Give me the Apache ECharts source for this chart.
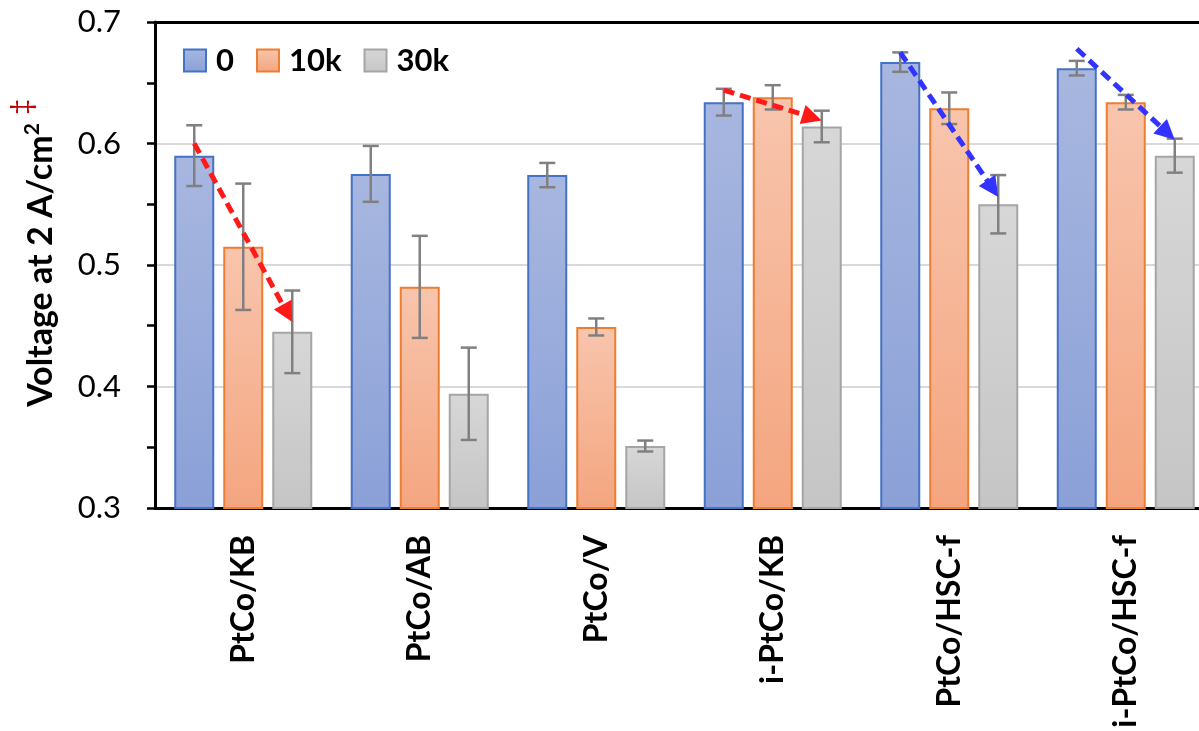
<!DOCTYPE html>
<html>
<head>
<meta charset="utf-8">
<script src="https://cdn.jsdelivr.net/npm/echarts@6/dist/echarts.min.js"></script>
<style>html,body{margin:0;padding:0;background:#fff;}#c{width:1199px;height:731px;}</style>
</head>
<body>
<div id="c"></div>
<script>
// ---- data ----
const categories = ['PtCo/KB', 'PtCo/AB', 'PtCo/V', 'i-PtCo/KB', 'PtCo/HSC-f', 'i-PtCo/HSC-f'];
const seriesNames = ['0', '10k', '30k'];
const v0   = [0.590, 0.575, 0.574, 0.634, 0.667, 0.662];
const v10k = [0.515, 0.482, 0.449, 0.638, 0.629, 0.634];
const v30k = [0.445, 0.394, 0.351, 0.614, 0.550, 0.590];
const err0   = [0.025, 0.023, 0.010, 0.011, 0.008, 0.006];
const err10k = [0.052, 0.042, 0.007, 0.010, 0.013, 0.006];
const err30k = [0.034, 0.038, 0.0045, 0.013, 0.024, 0.014];
const yTicks = [0.3, 0.4, 0.5, 0.6, 0.7];
// trend arrows: category index, start value (over 0 bar), end value (over 30k bar)
const arrowCat  = [0, 3, 4, 5];
const arrowFrom = [0.600, 0.644, 0.675, 0.678];
const arrowTo   = [0.453, 0.619, 0.556, 0.603];

// ---- styles ----
const arrowColors = ['#ff1a1a', '#ff1a1a', '#3333ff', '#3333ff'];
const BAR_W = 40, BAR_STEP = 49;
const FONT = 'Lato, "Open Sans", sans-serif';
const fills = [
  ['#a8b7e0', '#8aa0d7', '#4472c4'],
  ['#f8c5ad', '#f4a57f', '#ed7d31'],
  ['#d7d7d7', '#c5c5c5', '#a5a5a5']
];
const grad = (a, b) => new echarts.graphic.LinearGradient(0, 0, 0, 1, [{offset: 0, color: a}, {offset: 1, color: b}]);

const vals = [v0, v10k, v30k];
const errs = [err0, err10k, err30k];

const barSeries = vals.map((arr, i) => ({
  name: seriesNames[i],
  type: 'bar',
  data: arr,
  barWidth: BAR_W,
  barGap: ((BAR_STEP - BAR_W) / BAR_W * 100) + '%',
  itemStyle: { color: grad(fills[i][0], fills[i][1]), borderColor: fills[i][2], borderWidth: 2 },
  z: 2
}));

const errSeries = errs.map((arr, i) => ({
  type: 'custom',
  name: 'err' + i,
  data: arr.map((e, k) => [k, vals[i][k], e]),
  encode: { x: 0, y: 1 },
  z: 5,
  silent: true,
  renderItem: (params, api) => {
    const c = api.value(0), v = api.value(1), e = api.value(2);
    const x = api.coord([c, v])[0] + (i - 1) * BAR_STEP;
    const yt = api.coord([c, v + e])[1];
    const yb = api.coord([c, v - e])[1];
    const st = { stroke: '#808080', lineWidth: 2.5 };
    const cap = 8;
    return {
      type: 'group',
      children: [
        { type: 'line', shape: { x1: x, y1: yt, x2: x, y2: yb }, style: st },
        { type: 'line', shape: { x1: x - cap, y1: yt, x2: x + cap, y2: yt }, style: st },
        { type: 'line', shape: { x1: x - cap, y1: yb, x2: x + cap, y2: yb }, style: st }
      ]
    };
  }
}));

const arrowSeries = {
  type: 'custom',
  name: 'arrows',
  data: arrowCat.map((c, k) => [c, arrowFrom[k], arrowTo[k]]),
  encode: { x: 0, y: 1 },
  z: 10,
  silent: true,
  renderItem: (params, api) => {
    const c = api.value(0);
    const p1 = api.coord([c, api.value(1)]);
    const p2 = api.coord([c, api.value(2)]);
    const x1 = p1[0] - BAR_STEP, y1 = p1[1];
    const x2 = p2[0] + BAR_STEP, y2 = p2[1];
    const dx = x2 - x1, dy = y2 - y1, L = Math.sqrt(dx * dx + dy * dy);
    const ux = dx / L, uy = dy / L;
    const H = 20, W = 10;
    const bx = x2 - ux * H, by = y2 - uy * H;
    const col = arrowColors[params.dataIndex];
    return {
      type: 'group',
      children: [
        { type: 'line', shape: { x1: x1, y1: y1, x2: bx + ux * 2, y2: by + uy * 2 },
          style: { stroke: col, lineWidth: 5, lineDash: [11, 6] } },
        { type: 'polygon', shape: { points: [[x2, y2], [bx - uy * W, by + ux * W], [bx + uy * W, by - ux * W]] },
          style: { fill: col } }
      ]
    };
  }
};

const chart = echarts.init(document.getElementById('c'), null, { renderer: 'canvas' });
chart.setOption({
  animation: false,
  backgroundColor: '#fff',
  textStyle: { fontFamily: FONT },
  grid: { left: 155, top: 22, width: 1059, height: 486, containLabel: false, outerBoundsMode: 'none' },
  legend: {
    data: seriesNames,
    left: 178, top: 40,
    icon: 'rect',
    itemWidth: 22, itemHeight: 22,
    itemGap: 22,
    textStyle: { fontFamily: FONT, fontSize: 31, fontWeight: 'bold', color: '#000', padding: [0, 0, 0, 5] }
  },
  graphic: [{
    type: 'text',
    x: 22, y: 107,
    rotation: Math.PI / 2,
    style: { text: '‡', fontFamily: FONT, fontSize: 28, fill: '#c00000', align: 'center', verticalAlign: 'middle' }
  }],
  xAxis: [{
    type: 'category',
    data: categories,
    axisLine: { lineStyle: { color: '#000', width: 3 } },
    axisTick: { show: false },
    axisLabel: { rotate: 90, margin: 27, fontFamily: FONT, fontSize: 32, fontWeight: 'bold', color: '#000' }
  }, {
    type: 'category',
    data: categories,
    position: 'top',
    axisLine: { lineStyle: { color: '#000', width: 3 } },
    axisTick: { show: false },
    axisLabel: { show: false }
  }],
  yAxis: {
    type: 'value',
    min: 0.3, max: 0.7, interval: 0.1,
    axisLine: { show: true, lineStyle: { color: '#000', width: 3 } },
    axisTick: { show: true, length: 8, lineStyle: { color: '#000', width: 2.5 } },
    minorTick: { show: true, splitNumber: 2, length: 8, lineStyle: { color: '#000', width: 2.5 } },
    splitLine: { show: true, showMinLine: false, showMaxLine: false, lineStyle: { color: '#d9d9d9', width: 2 } },
    axisLabel: {
      margin: 34, fontFamily: FONT, fontSize: 31, color: '#000',
      formatter: v => { const t = yTicks.find(y => Math.abs(y - v) < 1e-6); return t !== undefined ? t.toFixed(1) : ''; }
    },
    name: '{t|Voltage at 2 A/cm}{s|2}',
    nameLocation: 'middle',
    nameRotate: 90,
    nameGap: 95,
    nameTextStyle: {
      rich: {
        t: { fontFamily: FONT, fontSize: 34, fontWeight: 'bold', color: '#000', lineHeight: 38 },
        s: { fontFamily: FONT, fontSize: 21, fontWeight: 'bold', color: '#000', verticalAlign: 'top', lineHeight: 22 }
      }
    }
  },
  series: [...barSeries, ...errSeries, arrowSeries]
});
</script>
</body>
</html>
